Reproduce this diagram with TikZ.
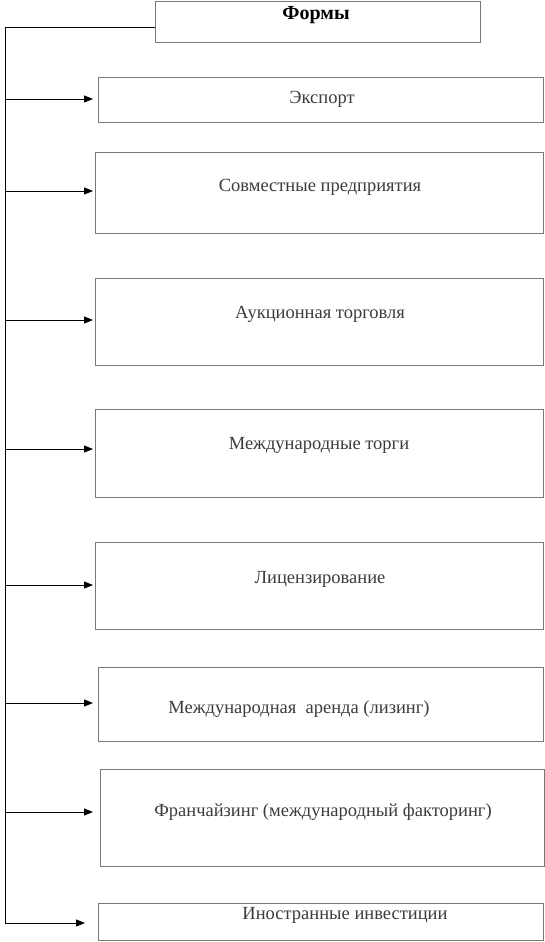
\documentclass[tikz,border=0pt]{standalone}
\usepackage{fontspec}
\setmainfont{Liberation Serif}
\usetikzlibrary{arrows.meta}
\definecolor{boxgray}{RGB}{120,120,120}
\definecolor{txtgray}{RGB}{60,60,60}
\tikzset{
  box/.style={draw=boxgray, line width=1.2pt, rectangle, inner sep=0pt, anchor=north west, fill=white},
  lbl/.style={font=\fontsize{18.5}{20}\selectfont, text=txtgray, anchor=base, inner sep=0pt},
  trunk/.style={draw=black, line width=1pt},
  arr/.style={draw=black, line width=1pt, -{Triangle[length=9pt,width=7pt]}},
}
\begin{document}
\begin{tikzpicture}[x=1pt,y=-1pt]
\useasboundingbox (0,0) rectangle (545,942);
% boxes
\node[box, minimum width=325pt, minimum height=41pt] (forms) at (155,1) {};
\node[box, minimum width=445pt, minimum height=45pt] (b1) at (98,77) {};
\node[box, minimum width=448pt, minimum height=81pt] (b2) at (95,152) {};
\node[box, minimum width=448pt, minimum height=87pt] (b3) at (95,278) {};
\node[box, minimum width=448pt, minimum height=88pt] (b4) at (95,409) {};
\node[box, minimum width=448pt, minimum height=87pt] (b5) at (95,542) {};
\node[box, minimum width=445pt, minimum height=74pt] (b6) at (98,667) {};
\node[box, minimum width=444pt, minimum height=97pt] (b7) at (100,769) {};
\node[box, minimum width=445pt, minimum height=37pt] (b8) at (98,903) {};
% texts
\node[lbl, text=black, font=\fontsize{20}{22}\selectfont\bfseries] (tf) at (316,20) {Формы};
\node[lbl] (t1) at (322,103) {Экспорт};
\node[lbl] (t2) at (320,191) {Совместные предприятия};
\node[lbl] (t3) at (320,318) {Аукционная торговля};
\node[lbl] (t4) at (319,449) {Международные торги};
\node[lbl] (t5) at (320,583) {Лицензирование};
\node[lbl] (t6) at (299,713) {Международная\ \ аренда (лизинг)};
\node[lbl] (t7) at (323,816) {Франчайзинг (международный факторинг)};
\node[lbl] (t8) at (345,919) {Иностранные инвестиции};
% trunk
\coordinate (top) at (5,28);
\coordinate (j1) at (5,99);
\coordinate (j2) at (5,191);
\coordinate (j3) at (5,320);
\coordinate (j4) at (5,449);
\coordinate (j5) at (5,585);
\coordinate (j6) at (5,703);
\coordinate (j7) at (5,812);
\coordinate (j8) at (5,923);
\draw[trunk] (forms.west |- top) -- (top) -- (j8);
\draw[arr, shorten >=5pt] (j1) -- (j1 -| b1.west);
\draw[arr, shorten >=2pt] (j2) -- (j2 -| b2.west);
\draw[arr, shorten >=2pt] (j3) -- (j3 -| b3.west);
\draw[arr, shorten >=2pt] (j4) -- (j4 -| b4.west);
\draw[arr, shorten >=2pt] (j5) -- (j5 -| b5.west);
\draw[arr, shorten >=5pt] (j6) -- (j6 -| b6.west);
\draw[arr, shorten >=7pt] (j7) -- (j7 -| b7.west);
\draw[arr, shorten >=13pt] (j8) -- (j8 -| b8.west);
\end{tikzpicture}
\end{document}
